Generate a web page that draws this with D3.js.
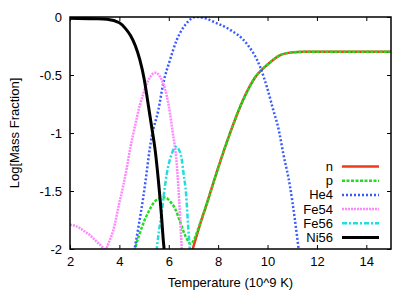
<!DOCTYPE html>
<html>
<head>
<meta charset="utf-8">
<script src="https://cdn.jsdelivr.net/npm/d3@7"></script>
<style>
    body { margin: 0; background: #fff; }
    svg { font-family: "Liberation Sans", Arial, sans-serif; }
</style>
</head>
<body>
<svg id="chart" width="415" height="291"></svg>
<script>
    // data: [temperature, log mass fraction]
    const nData = [[6.97,-2],[7.25,-1.8],[7.54,-1.61],[8.0,-1.3],[8.5,-0.99],[9.0,-0.72],[9.5,-0.52],
        [10.0,-0.41],[10.5,-0.33],[11.0,-0.305],[11.5,-0.3],[12,-0.3],[13,-0.3],[14,-0.3],[15,-0.3]];
    const pData = [[4.6,-2.02],[4.8,-1.88],[4.97,-1.78],[5.2,-1.67],[5.4,-1.6],[5.6,-1.565],[5.85,-1.555],
        [6.05,-1.59],[6.25,-1.65],[6.45,-1.76],[6.6,-1.85],[6.75,-1.92],[6.88,-1.955],[7.0,-1.93],
        [7.15,-1.85],[7.3,-1.76],[7.54,-1.61],[8.0,-1.3],[8.5,-0.99],[9.0,-0.72],[9.5,-0.52],
        [10.0,-0.41],[10.5,-0.33],[11.0,-0.305],[11.5,-0.3],[12,-0.3],[13,-0.3],[14,-0.3],[15,-0.3]];
    const he4Data = [[4.6,-2.02],[4.97,-1.55],[5.31,-1.03],[5.58,-0.8],[5.78,-0.57],[6.05,-0.37],[6.32,-0.2],
        [6.66,-0.07],[7.1,0],[7.54,-0.015],[7.8,-0.04],[8.48,-0.11],[9.16,-0.23],[9.7,-0.43],[9.97,-0.6],
        [10.23,-0.8],[10.44,-0.96],[10.64,-1.18],[10.91,-1.46],[11.11,-1.75],[11.27,-2.02]];
    const fe54Data = [[2,-1.79],[2.2,-1.8],[2.4,-1.82],[2.6,-1.85],[2.8,-1.88],[3.0,-1.92],[3.2,-1.96],
        [3.42,-2.0],[3.6,-1.93],[3.75,-1.84],[4.0,-1.6],[4.16,-1.45],[4.3,-1.3],[4.45,-1.12],[4.6,-0.97],
        [4.83,-0.76],[4.97,-0.66],[5.1,-0.58],[5.24,-0.52],[5.35,-0.49],[5.48,-0.48],[5.6,-0.5],
        [5.75,-0.56],[5.92,-0.68],[6.05,-0.83],[6.15,-0.98],[6.32,-1.26],[6.45,-1.69],[6.53,-2.02]];
    const fe56Data = [[5.5,-2.02],[5.6,-1.85],[5.71,-1.69],[5.82,-1.5],[5.92,-1.35],[6.02,-1.25],[6.12,-1.18],
        [6.22,-1.13],[6.3,-1.12],[6.4,-1.14],[6.52,-1.22],[6.6,-1.35],[6.7,-1.52],[6.79,-1.82],[6.86,-2.02]];
    const ni56Data = [[2,-0.01],[3,-0.015],[3.5,-0.02],[4,-0.05],[4.25,-0.1],[4.45,-0.16],[4.65,-0.25],
        [4.83,-0.37],[5.0,-0.53],[5.1,-0.66],[5.2,-0.8],[5.31,-0.95],[5.45,-1.15],[5.58,-1.41],
        [5.7,-1.7],[5.78,-1.93],[5.82,-2.02]];

    const xTicks = [2, 4, 6, 8, 10, 12, 14];
    const yTicks = [0, -0.5, -1, -1.5, -2];

    const series = [
        { name: "n", data: nData, color: "#ee3a1a", dash: null, width: 2.5 },
        { name: "p", data: pData, color: "#22dd22", dash: "3,1.5", width: 2.5 },
        { name: "He4", data: he4Data, color: "#3a5cff", dash: "2,2", width: 2.5 },
        { name: "Fe54", data: fe54Data, color: "#ff88ff", dash: "2,1", width: 2.5 },
        { name: "Fe56", data: fe56Data, color: "#22dddd", dash: "5,2,2,2", width: 2.5 },
        { name: "Ni56", data: ni56Data, color: "#000000", dash: null, width: 3 }
    ];

    let svg = d3.select("#chart");
    let plotLeft = 70, plotRight = 391, plotTop = 17, plotBottom = 249;

    let x = d3.scaleLinear().domain([2, 15]).range([plotLeft, plotRight]);
    let y = d3.scaleLinear().domain([-2, 0]).range([plotBottom, plotTop]);

    svg.append("clipPath").attr("id", "plot-clip")
        .append("rect")
        .attr("x", plotLeft).attr("y", plotTop)
        .attr("width", plotRight - plotLeft).attr("height", plotBottom - plotTop);

    // axes with inward ticks, mirrored on top and right like gnuplot
    let tickLen = 4;
    svg.append("g").attr("transform", `translate(0,${plotBottom})`)
        .call(d3.axisBottom(x).tickValues(xTicks).tickSize(-tickLen).tickPadding(8).tickFormat(d3.format("d")));
    svg.append("g").attr("transform", `translate(0,${plotTop})`)
        .call(d3.axisTop(x).tickValues(xTicks).tickSize(-tickLen).tickFormat(""));
    svg.append("g").attr("transform", `translate(${plotLeft},0)`)
        .call(d3.axisLeft(y).tickValues(yTicks).tickSize(-tickLen).tickPadding(8).tickFormat(d => d === 0 ? "0" : String(d)));
    svg.append("g").attr("transform", `translate(${plotRight},0)`)
        .call(d3.axisRight(y).tickValues(yTicks).tickSize(-tickLen).tickFormat(""));

    svg.selectAll(".domain").remove();
    svg.selectAll(".tick line").attr("stroke", "#000").attr("stroke-width", 1);
    svg.selectAll(".tick text").attr("font-size", 13).attr("fill", "#000")
        .attr("font-family", "'Liberation Sans', Arial, sans-serif");

    let line = d3.line()
        .x(d => x(d[0]))
        .y(d => y(d[1]))
        .curve(d3.curveMonotoneX);

    let plot = svg.append("g").attr("clip-path", "url(#plot-clip)");
    series.forEach(s => {
        plot.append("path")
            .attr("d", line(s.data))
            .attr("fill", "none")
            .attr("stroke", s.color)
            .attr("stroke-width", s.width)
            .attr("stroke-dasharray", s.dash);
    });

    // border
    svg.append("rect")
        .attr("x", plotLeft).attr("y", plotTop)
        .attr("width", plotRight - plotLeft).attr("height", plotBottom - plotTop)
        .attr("fill", "none").attr("stroke", "#000").attr("stroke-width", 1.5);

    // legend
    let legendY = d3.scalePoint().domain(series.map(s => s.name)).range([166.5, 237.5]);
    let legend = svg.append("g");
    series.forEach(s => {
        legend.append("text")
            .attr("x", 333).attr("y", legendY(s.name))
            .attr("dy", "0.35em")
            .attr("text-anchor", "end")
            .attr("font-size", 13)
            .text(s.name);
        legend.append("line")
            .attr("x1", 342).attr("x2", 379)
            .attr("y1", legendY(s.name)).attr("y2", legendY(s.name))
            .attr("stroke", s.color)
            .attr("stroke-width", s.width)
            .attr("stroke-dasharray", s.dash);
    });

    // axis titles
    svg.append("text")
        .attr("x", (plotLeft + plotRight) / 2).attr("y", 287)
        .attr("text-anchor", "middle").attr("font-size", 13)
        .text("Temperature (10^9 K)");
    svg.append("text")
        .attr("transform", `translate(19,${(plotTop + plotBottom) / 2}) rotate(-90)`)
        .attr("text-anchor", "middle").attr("font-size", 13)
        .text("Log[Mass Fraction]");
</script>
</body>
</html>
